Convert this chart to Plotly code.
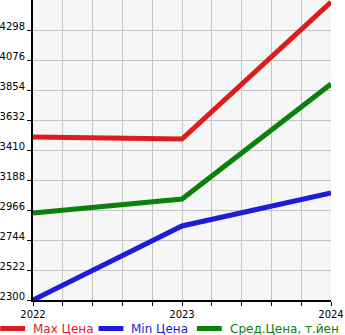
import plotly.graph_objects as go

years = [2022, 2023, 2024]
max_price = [3506, 3491, 4505]
min_price = [2300, 2848, 3092]
avg_price = [2944, 3047, 3898]
y_ticks = [2300, 2522, 2744, 2966, 3188, 3410, 3632, 3854, 4076, 4298]
series_names = ["Max Цена", "Min Цена", "Сред.Цена, т.йен"]
series_colors = ["#dd1d1d", "#1c1cdb", "#0b800b"]

fig = go.Figure()
for name, vals, col in zip(series_names, [max_price, min_price, avg_price], series_colors):
    fig.add_trace(go.Scatter(x=years, y=vals, mode="lines", name=name,
                             line=dict(color=col, width=5), showlegend=False))

W, H = 345, 335
ML, MR, MT, MB = 31, 14, 0, 35
pw, ph = W - ML - MR, H - MT - MB

def px_x(p):
    return (p - ML) / pw

def px_y(p):
    return (H - MB - p) / ph

# manual legend (swatch line + coloured label)
legend_starts = [0, 99, 198]
leg_y = 328.5
shapes = []
annotations = []
for start, name, col in zip(legend_starts, series_names, series_colors):
    shapes.append(dict(type="line", xref="paper", yref="paper",
                       x0=px_x(start - 2), x1=px_x(start + 23), y0=px_y(leg_y), y1=px_y(leg_y),
                       line=dict(color=col, width=5)))
    annotations.append(dict(xref="paper", yref="paper", x=px_x(start + 29), y=px_y(leg_y),
                            xanchor="left", yanchor="middle", text=name, showarrow=False,
                            font=dict(size=12, color=col, family="DejaVu Sans")))

fig.update_layout(
    width=W, height=H,
    margin=dict(l=ML, r=MR, t=MT, b=MB),
    paper_bgcolor="white",
    plot_bgcolor="#f6f6f6",
    font=dict(family="DejaVu Sans", size=10, color="black"),
    showlegend=False,
    shapes=shapes,
    annotations=annotations,
)
fig.update_xaxes(
    range=[2022, 2024], tickvals=years, ticktext=[str(y) for y in years],
    showgrid=True, gridcolor="#c4c4c4", gridwidth=1,
    minor=dict(dtick=0.2, tick0=2022, showgrid=True, gridcolor="#c4c4c4",
               ticks="outside", ticklen=4, tickcolor="black"),
    ticks="outside", ticklen=4, tickcolor="black",
    showline=True, linecolor="black", linewidth=2,
    zeroline=False, fixedrange=True,
)
fig.update_yaxes(
    range=[2300, 4520], tickvals=y_ticks, ticktext=[str(v) for v in y_ticks],
    showgrid=True, gridcolor="#c4c4c4", gridwidth=1,
    ticks="outside", ticklen=4, tickcolor="black", ticklabelshift=-4,
    showline=True, linecolor="black", linewidth=2,
    zeroline=False, fixedrange=True,
)

fig.write_html("out.html")
